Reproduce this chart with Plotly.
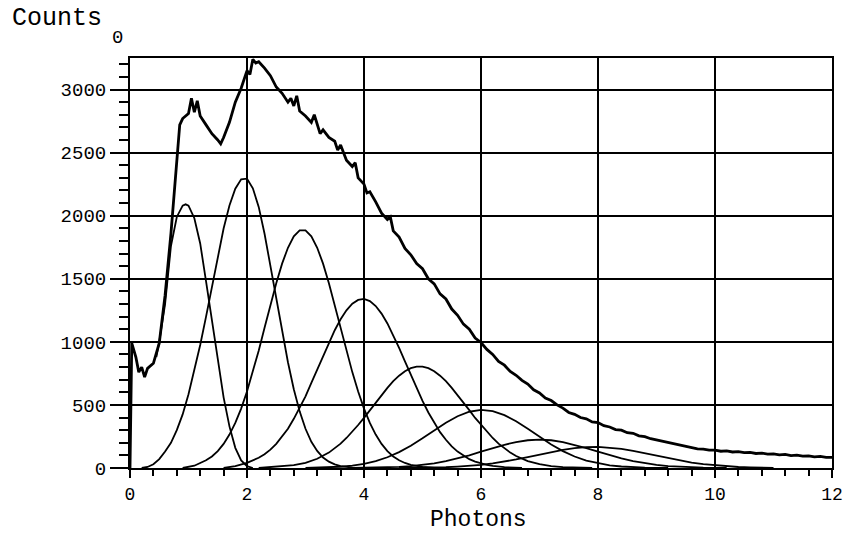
import plotly.graph_objects as go

# ---- measured histogram (total counts) ----
total_x = [0.0, 0.03, 0.1, 0.15, 0.2, 0.25, 0.3, 0.4, 0.5, 0.6, 0.7, 0.8, 0.85, 0.9, 1.0, 1.05, 1.1, 1.15, 1.2,
           1.3, 1.4, 1.5, 1.55, 1.6, 1.7, 1.8, 1.9, 2.0, 2.05, 2.1, 2.15, 2.2, 2.3, 2.4, 2.5, 2.6, 2.7, 2.75,
           2.8, 2.85, 2.9, 3.0, 3.1, 3.15, 3.2, 3.25, 3.3, 3.4, 3.5, 3.55, 3.6, 3.7, 3.8, 3.85, 3.9, 4.0, 4.05,
           4.1, 4.2, 4.3, 4.4, 4.45, 4.5, 4.6, 4.7, 4.8, 4.9, 5.0, 5.1, 5.2, 5.3, 5.4, 5.5, 5.6, 5.7, 5.8, 5.9,
           6.0, 6.1, 6.2, 6.3, 6.4, 6.5, 6.6, 6.7, 6.8, 6.9, 7.0, 7.1, 7.2, 7.3, 7.4, 7.5, 7.6, 7.7, 7.8, 7.9,
           8.0, 8.1, 8.2, 8.3, 8.4, 8.5, 8.6, 8.7, 8.8, 8.9, 9.0, 9.1, 9.2, 9.3, 9.4, 9.5, 9.6, 9.7, 9.8, 9.9,
           10.0, 10.1, 10.2, 10.3, 10.4, 10.5, 10.6, 10.7, 10.8, 10.9, 11.0, 11.1, 11.2, 11.3, 11.4, 11.5, 11.6,
           11.7, 11.8, 11.9, 12.0]
total_y = [0, 990, 880, 760, 800, 720, 790, 830, 990, 1370, 1860, 2460, 2720, 2770, 2810, 2930, 2820, 2910, 2790,
           2720, 2650, 2600, 2570, 2620, 2740, 2900, 3010, 3150, 3120, 3240, 3210, 3220, 3170, 3110, 3020, 2970,
           2900, 2930, 2870, 2950, 2830, 2790, 2740, 2800, 2720, 2650, 2680, 2620, 2590, 2520, 2560, 2440, 2390,
           2420, 2300, 2250, 2180, 2190, 2110, 2020, 1970, 1990, 1880, 1830, 1740, 1690, 1620, 1580, 1500, 1460,
           1380, 1340, 1260, 1210, 1140, 1100, 1030, 995, 940, 900, 845, 815, 765, 735, 695, 665, 620, 595, 555,
           535, 500, 475, 440, 425, 400, 390, 365, 360, 335, 325, 305, 300, 280, 275, 255, 248, 232, 222, 208,
           203, 188, 182, 168, 162, 152, 150, 142, 142, 133, 135, 127, 130, 122, 123, 115, 118, 110, 112, 104,
           108, 98, 102, 94, 96, 88, 92, 84, 85]

# ---- fitted photon-number components ----
c1_x = [0.45, 0.5, 0.6, 0.64, 0.7, 0.8, 0.9, 0.95, 1.0, 1.1, 1.2, 1.3, 1.4, 1.5, 1.6, 1.7, 1.8, 1.9, 2.0, 2.1]
c1_y = [880, 1000, 1300, 1500, 1760, 1990, 2080, 2090, 2080, 1980, 1780, 1480, 1160, 850, 560, 330, 160, 60, 15, 0]

c2_x = [0.2, 0.3, 0.4, 0.5, 0.6, 0.7, 0.8, 0.9, 1.0, 1.1, 1.2, 1.3, 1.4, 1.5, 1.6, 1.7, 1.8, 1.9, 2.0, 2.1, 2.2,
        2.3, 2.4, 2.5, 2.6, 2.7, 2.8, 2.9, 3.0, 3.1, 3.2, 3.3, 3.4, 3.5, 3.6, 3.7, 3.8, 4.0]
c2_y = [0, 8, 30, 70, 130, 200, 300, 425, 585, 768, 975, 1200, 1442, 1679, 1898, 2081, 2214, 2288, 2293, 2217,
        2070, 1857, 1608, 1338, 1078, 838, 624, 449, 311, 208, 135, 83, 50, 29, 15, 7, 3, 0]

c3_x = [0.9, 1.0, 1.1, 1.2, 1.3, 1.4, 1.5, 1.6, 1.7, 1.8, 1.9, 2.0, 2.1, 2.2, 2.3, 2.4, 2.5, 2.6, 2.7, 2.8, 2.9,
        3.0, 3.1, 3.2, 3.3, 3.4, 3.5, 3.6, 3.7, 3.8, 3.9, 4.0, 4.1, 4.2, 4.3, 4.4, 4.5, 4.6, 4.7, 4.8, 5.0, 5.2]
c3_y = [0, 6, 18, 40, 61, 91, 134, 191, 265, 357, 471, 607, 760, 930, 1111, 1291, 1465, 1620, 1746, 1837, 1884,
        1884, 1837, 1746, 1620, 1465, 1291, 1111, 930, 760, 607, 471, 357, 265, 191, 134, 91, 61, 40, 25, 9, 0]

c4_x = [1.6, 1.8, 2.0, 2.1, 2.2, 2.3, 2.4, 2.5, 2.6, 2.7, 2.8, 2.9, 3.0, 3.1, 3.2, 3.3, 3.4, 3.5, 3.6, 3.7, 3.8,
        3.9, 4.0, 4.1, 4.2, 4.3, 4.4, 4.5, 4.6, 4.7, 4.8, 4.9, 5.0, 5.1, 5.2, 5.3, 5.4, 5.5, 5.6, 5.7, 5.8, 5.9,
        6.0, 6.1, 6.2, 6.4, 6.7]
c4_y = [0, 15, 41, 58, 81, 109, 146, 192, 247, 311, 390, 476, 568, 675, 780, 888, 994, 1092, 1179, 1250, 1302,
        1332, 1340, 1323, 1284, 1224, 1146, 1055, 952, 846, 737, 631, 532, 440, 357, 284, 224, 172, 130, 98, 70,
        51, 36, 25, 17, 7, 0]

c5_x = [2.2, 2.6, 2.8, 3.0, 3.2, 3.4, 3.5, 3.6, 3.7, 3.8, 3.9, 4.0, 4.1, 4.2, 4.3, 4.4, 4.5, 4.6, 4.7, 4.8, 4.9,
        5.0, 5.1, 5.2, 5.3, 5.4, 5.5, 5.6, 5.7, 5.8, 5.9, 6.0, 6.1, 6.2, 6.3, 6.4, 6.5, 6.6, 6.8, 7.0, 7.2,
        7.4, 7.6, 7.9]
c5_y = [0, 11, 22, 41, 73, 122, 156, 193, 238, 286, 341, 397, 459, 519, 579, 635, 688, 732, 767, 791, 803,
        803, 791, 767, 732, 688, 635, 579, 519, 459, 397, 341, 286, 238, 193, 156, 122, 95, 55, 30, 15, 7, 3, 0]

c6_x = [3.0, 3.4, 3.6, 3.8, 4.0, 4.2, 4.4, 4.6, 4.8, 5.0, 5.2, 5.4, 5.6, 5.8, 6.0, 6.2, 6.4, 6.6, 6.8, 7.0, 7.2,
        7.4, 7.6, 7.8, 8.0, 8.2, 8.4, 8.6, 8.8, 9.2]
c6_y = [0, 5, 10, 19, 33, 54, 85, 126, 176, 235, 299, 359, 410, 446, 460, 450, 419, 370, 311, 249, 187, 134, 91,
        59, 37, 21, 12, 6, 3, 0]

c7_x = [3.8, 4.2, 4.4, 4.6, 4.8, 5.0, 5.2, 5.4, 5.6, 5.8, 6.0, 6.2, 6.4, 6.6, 6.8, 7.0, 7.2, 7.4, 7.6, 7.8, 8.0,
        8.2, 8.4, 8.6, 8.8, 9.0, 9.2, 9.4, 9.6, 9.8, 10.2]
c7_y = [0, 3, 5, 9, 15, 25, 37, 55, 76, 101, 129, 158, 184, 206, 220, 225, 220, 206, 184, 158, 129, 101, 76, 55,
        37, 25, 15, 9, 5, 3, 0]

c8_x = [4.6, 5.0, 5.2, 5.4, 5.6, 5.8, 6.0, 6.2, 6.4, 6.6, 6.8, 7.0, 7.2, 7.4, 7.6, 7.8, 8.0, 8.2, 8.4, 8.6, 8.8,
        9.0, 9.2, 9.4, 9.6, 9.8, 10.0, 10.2, 10.4, 10.6, 11.0]
c8_y = [0, 2, 4, 6, 11, 17, 25, 36, 51, 68, 87, 107, 127, 144, 158, 166, 168, 163, 152, 136, 117, 97, 77, 59, 43,
        30, 21, 13, 8, 5, 0]

components = [(c1_x, c1_y), (c2_x, c2_y), (c3_x, c3_y), (c4_x, c4_y),
              (c5_x, c5_y), (c6_x, c6_y), (c7_x, c7_y), (c8_x, c8_y)]

FONT = "Liberation Mono"

fig = go.Figure()
for cx, cy in components:
    fig.add_trace(go.Scatter(x=cx, y=cy, mode="lines", line=dict(color="black", width=1.8),
                             showlegend=False, hoverinfo="skip"))
fig.add_trace(go.Scatter(x=total_x, y=total_y, mode="lines", line=dict(color="black", width=2.8),
                         showlegend=False))

fig.update_layout(
    width=848, height=534,
    margin=dict(l=130, r=16, t=58, b=66),
    paper_bgcolor="white", plot_bgcolor="white",
    font=dict(family=FONT, color="black", size=19),
    showlegend=False,
)
fig.update_xaxes(
    range=[0, 12], dtick=2, tick0=0, automargin=False,
    showgrid=True, gridcolor="black", gridwidth=1.5,
    showline=True, linecolor="black", linewidth=2, mirror=True,
    ticks="outside", ticklen=8, tickwidth=1.8, tickcolor="black",
    tickfont=dict(family=FONT, size=18, color="black"),
    minor=dict(dtick=0.4, tick0=0, ticks="outside", ticklen=6, tickwidth=1.8, tickcolor="black", showgrid=False),
    zeroline=False,
)
fig.update_yaxes(
    range=[0, 3250], dtick=500, tick0=0, automargin=False,
    showgrid=True, gridcolor="black", gridwidth=1.5,
    showline=True, linecolor="black", linewidth=2, mirror=True,
    ticks="outside", ticklen=18, tickwidth=1.8, tickcolor="black",
    tickfont=dict(family=FONT, size=19, color="black"),
    minor=dict(dtick=100, tick0=0, ticks="outside", ticklen=9, tickwidth=1.8, tickcolor="black", showgrid=False),
    zeroline=False,
)

fig.add_annotation(text="Counts", xref="paper", yref="paper", x=-0.171, y=1.0975,
                   xanchor="left", yanchor="middle", showarrow=False,
                   font=dict(family=FONT, size=25, color="black"))
fig.add_annotation(text="0", xref="paper", yref="paper", x=-0.0185, y=1.0487,
                   xanchor="center", yanchor="middle", showarrow=False,
                   font=dict(family=FONT, size=19, color="black"))
fig.add_annotation(text="Photons", xref="paper", yref="paper", x=0.4964, y=-0.1268,
                   xanchor="center", yanchor="middle", showarrow=False,
                   font=dict(family=FONT, size=23, color="black"))

fig.write_html("out.html")
